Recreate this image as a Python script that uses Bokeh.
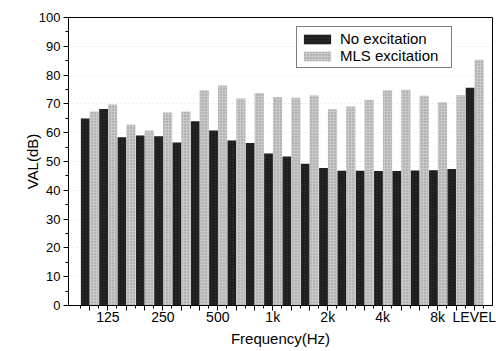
import numpy as np
from bokeh.plotting import figure
from bokeh.models import Range1d, FixedTicker, Legend, LegendItem, ColumnDataSource
from bokeh.transform import dodge
from bokeh.embed import file_html
from bokeh.resources import INLINE

# ---- data -------------------------------------------------------------
bands = ["100", "125", "160", "200", "250", "315", "400", "500", "630", "800",
         "1k", "1.25k", "1.6k", "2k", "2.5k", "3.15k", "4k", "5k", "6.3k", "8k",
         "10k", "LEVEL"]
no_excitation = [64.9, 68.2, 58.4, 59.0, 58.8, 56.6, 64.0, 60.8, 57.3, 56.4,
                 52.8, 51.7, 49.2, 47.7, 46.8, 46.8, 46.7, 46.7, 46.9, 47.0,
                 47.4, 75.6]
mls_excitation = [67.4, 69.8, 62.8, 60.8, 67.0, 67.4, 74.7, 76.4, 71.9, 73.8,
                  72.3, 72.1, 72.9, 68.1, 69.1, 71.4, 74.7, 74.9, 72.8, 70.6,
                  73.0, 85.3]
shown_tick_labels = ["125", "250", "500", "1k", "2k", "4k", "8k", "LEVEL"]
y_ticks = [0, 10, 20, 30, 40, 50, 60, 70, 80, 90, 100]

series_names = ["No excitation", "MLS excitation"]

# ---- source -----------------------------------------------------------
idx = list(range(len(bands)))
src = ColumnDataSource(dict(x=idx, no=no_excitation, mls=mls_excitation, band=bands))

FONT = "Liberation Sans"

p = figure(width=496, height=351, output_backend="svg", toolbar_location=None,
           x_range=Range1d(-1.146, 21.99), y_range=Range1d(0, 100),
           min_border_left=68, min_border_right=4, min_border_top=17,
           min_border_bottom=46)
p.background_fill_color = "white"
p.border_fill_color = "white"
p.outline_line_color = "black"
p.outline_line_width = 1
p.outline_line_alpha = 1

r_no = p.vbar(x=dodge("x", -0.23, range=p.x_range), top="no", width=0.48, bottom=0,
              source=src, fill_color="#1c1c1c", line_color=None,
              hatch_pattern="dot", hatch_color="#555555", hatch_scale=3,
              hatch_alpha=0.5)
r_mls = p.vbar(x=dodge("x", 0.26, range=p.x_range), top="mls", width=0.5, bottom=0,
               source=src, fill_color="#c9c9c9", line_color=None,
               hatch_pattern="dot", hatch_color="#6a6a6a", hatch_scale=3,
               hatch_alpha=0.6)

# grids
p.xgrid.grid_line_color = None
p.ygrid.grid_line_color = "#dedede"
p.ygrid.grid_line_dash = "1 3"
p.ygrid.ticker = FixedTicker(ticks=y_ticks)

# x axis
xa = p.xaxis[0]
xa.ticker = FixedTicker(ticks=idx, minor_ticks=[i + 0.5 for i in range(-1, len(bands))])
xa.major_label_overrides = {i: (b if b in shown_tick_labels else "") for i, b in zip(idx, bands)}
xa.axis_label = "Frequency(Hz)"
xa.axis_label_text_font = FONT
xa.axis_label_text_font_size = "15px"
xa.axis_label_text_font_style = "normal"
xa.axis_label_text_color = "black"
xa.axis_label_standoff = 2
xa.major_label_text_font = FONT
xa.major_label_text_font_size = "14px"
xa.major_label_text_color = "black"
xa.major_label_standoff = -2
xa.major_tick_out = 5
xa.major_tick_in = 0
xa.minor_tick_out = 3
xa.minor_tick_in = 0
xa.axis_line_color = "black"
xa.major_tick_line_color = "black"
xa.minor_tick_line_color = "black"

# y axis
ya = p.yaxis[0]
ya.ticker = FixedTicker(ticks=y_ticks, minor_ticks=[v + 5 for v in y_ticks[:-1]])
ya.axis_label = "VAL(dB)"
ya.axis_label_text_font = FONT
ya.axis_label_text_font_size = "15px"
ya.axis_label_text_font_style = "normal"
ya.axis_label_text_color = "black"
ya.axis_label_standoff = -5
ya.major_label_text_font = FONT
ya.major_label_text_font_size = "13px"
ya.major_label_text_color = "black"
ya.major_label_standoff = 3
ya.major_tick_out = 5
ya.major_tick_in = 0
ya.minor_tick_out = 3
ya.minor_tick_in = 0
ya.axis_line_color = "black"
ya.major_tick_line_color = "black"
ya.minor_tick_line_color = "black"

# legend
legend = Legend(items=[LegendItem(label=series_names[0], renderers=[r_no]),
                       LegendItem(label=series_names[1], renderers=[r_mls])],
                location=(228, 237))
legend.label_text_font = FONT
legend.label_text_font_size = "15px"
legend.label_text_color = "black"
legend.glyph_width = 34
legend.glyph_height = 12
legend.label_standoff = 6
legend.label_width = 108
legend.label_height = 14
legend.padding = 3
legend.spacing = 0
legend.margin = 0
legend.border_line_color = "black"
legend.border_line_width = 1
legend.background_fill_color = "white"
legend.background_fill_alpha = 1
p.add_layout(legend, "center")

open("out.html", "w").write(file_html(p, INLINE))
